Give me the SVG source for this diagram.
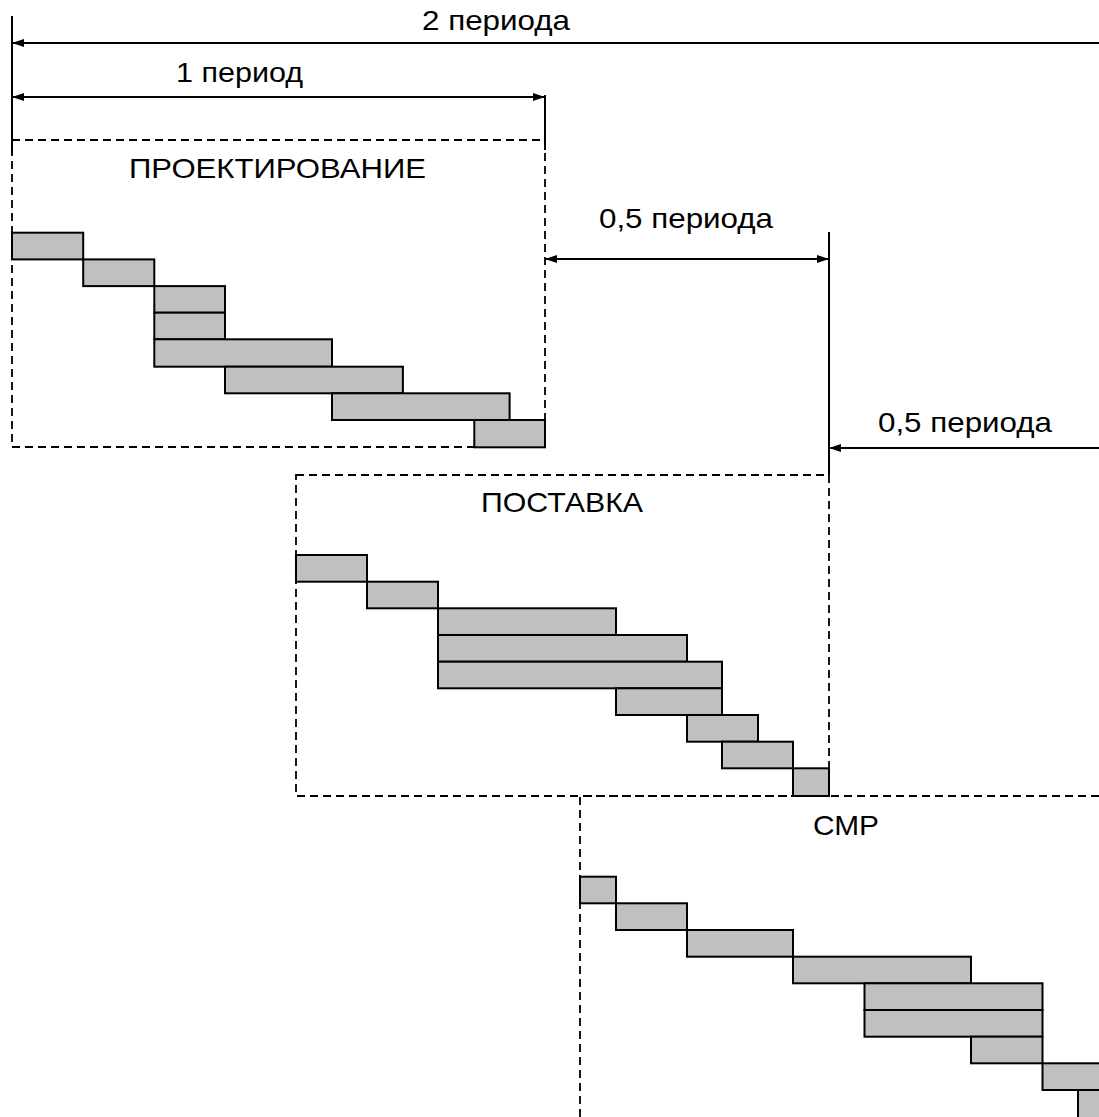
<svg xmlns="http://www.w3.org/2000/svg" width="1099" height="1117" viewBox="0 0 1099 1117">
  <style>
    .bg { fill: #ffffff; }
    .bar { fill: #c0c0c0; stroke: #000000; stroke-width: 2; }
    .frame { fill: none; stroke: #000000; stroke-width: 1.8; stroke-dasharray: 8 5; }
    .solid { fill: none; stroke: #000000; stroke-width: 2; }
    .dim { fill: none; stroke: #000000; stroke-width: 2; }
    .lbl { font-family: "Liberation Sans", Arial, sans-serif; font-size: 28px; fill: #000000; text-anchor: middle; }
  </style>
  <defs>
    <marker id="arrow" viewBox="0 0 12 8" refX="12" refY="4" markerWidth="12" markerHeight="8" markerUnits="userSpaceOnUse" orient="auto-start-reverse">
      <path d="M0,0 L12,4 L0,8 z" fill="#000000"/>
    </marker>
  </defs>
  <rect class="bg" x="0" y="0" width="1099" height="1117"/>

  <!-- Stage: design -->
  <g id="stage-design">
    <path class="frame" d="M12,140 H545 V447 H12 Z"/>
    <text class="lbl" x="277.5" y="178" textLength="297" lengthAdjust="spacingAndGlyphs">ПРОЕКТИРОВАНИЕ</text>
    <rect class="bar" x="12" y="232.7" width="71.2" height="26.7"/>
    <rect class="bar" x="83.2" y="259.4" width="71.1" height="26.7"/>
    <rect class="bar" x="154.3" y="286.1" width="70.7" height="26.6"/>
    <rect class="bar" x="154.3" y="312.7" width="70.7" height="26.6"/>
    <rect class="bar" x="154.3" y="339.3" width="177.7" height="27.4"/>
    <rect class="bar" x="225" y="366.7" width="177.9" height="26.6"/>
    <rect class="bar" x="332" y="393.3" width="177.6" height="26.7"/>
    <rect class="bar" x="474.3" y="420" width="70.7" height="27.3"/>
  </g>

  <!-- Stage: supply -->
  <g id="stage-supply">
    <path class="frame" d="M296,475 H829 V796 H296 Z"/>
    <text class="lbl" x="562" y="512" textLength="162" lengthAdjust="spacingAndGlyphs">ПОСТАВКА</text>
    <rect class="bar" x="296" y="555" width="71" height="26.7"/>
    <rect class="bar" x="367" y="581.7" width="71" height="26.6"/>
    <rect class="bar" x="438" y="608.3" width="178" height="26.7"/>
    <rect class="bar" x="438" y="635" width="249" height="26.7"/>
    <rect class="bar" x="438" y="661.7" width="284" height="26.6"/>
    <rect class="bar" x="616" y="688.3" width="106" height="26.7"/>
    <rect class="bar" x="687" y="715" width="71" height="26.7"/>
    <rect class="bar" x="722" y="741.7" width="71" height="26.6"/>
    <rect class="bar" x="793" y="768.3" width="36" height="27.7"/>
  </g>

  <!-- Stage: construction and installation -->
  <g id="stage-construction">
    <path class="frame" d="M1099,796 H580 V1117"/>
    <text class="lbl" x="846" y="835" textLength="66" lengthAdjust="spacingAndGlyphs">СМР</text>
    <rect class="bar" x="580" y="876.7" width="36" height="26.6"/>
    <rect class="bar" x="616" y="903.3" width="71" height="26.7"/>
    <rect class="bar" x="687" y="930" width="106" height="26.7"/>
    <rect class="bar" x="793" y="956.7" width="178" height="26.6"/>
    <rect class="bar" x="864.5" y="983.3" width="178" height="26.7"/>
    <rect class="bar" x="864.5" y="1010" width="178" height="26.7"/>
    <rect class="bar" x="971" y="1036.7" width="71.5" height="26.6"/>
    <rect class="bar" x="1042.5" y="1063.3" width="70" height="26.7"/>
    <rect class="bar" x="1078" y="1090" width="40" height="30"/>
  </g>

  <!-- Dimension lines -->
  <g id="connectors">
    <line class="solid" x1="12" y1="16" x2="12" y2="155"/>
    <line class="solid" x1="545" y1="95" x2="545" y2="150"/>
    <line class="solid" x1="829" y1="232" x2="829" y2="475"/>
    <line class="dim" x1="12" y1="43" x2="1105" y2="43" marker-start="url(#arrow)"/>
    <line class="dim" x1="12" y1="97" x2="545" y2="97" marker-start="url(#arrow)" marker-end="url(#arrow)"/>
    <line class="dim" x1="545" y1="259" x2="829" y2="259" marker-start="url(#arrow)" marker-end="url(#arrow)"/>
    <line class="dim" x1="1105" y1="448" x2="829" y2="448" marker-end="url(#arrow)"/>
  </g>

  <!-- Dimension labels -->
  <g id="labels">
    <text class="lbl" x="496" y="30" textLength="148" lengthAdjust="spacingAndGlyphs">2 периода</text>
    <text class="lbl" x="239.5" y="82" textLength="127" lengthAdjust="spacingAndGlyphs">1 период</text>
    <text class="lbl" x="686" y="228" textLength="174" lengthAdjust="spacingAndGlyphs">0,5 периода</text>
    <text class="lbl" x="965" y="432" textLength="174" lengthAdjust="spacingAndGlyphs">0,5 периода</text>
  </g>
</svg>
